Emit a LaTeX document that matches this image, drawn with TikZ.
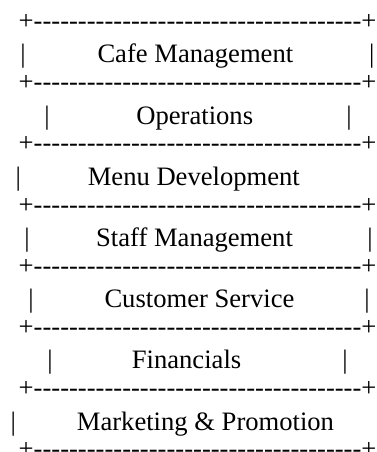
\documentclass[tikz,border=0pt]{standalone}
\usepackage{fontspec}
\setmainfont{Liberation Serif}
\tikzset{
  txt/.style={inner sep=0pt, font=\fontsize{26.6}{30}\selectfont},
  row/.style={txt, anchor=base west},
  bar/.style={txt, anchor=base},
}
% one ascii border: plus, a run of hyphens, plus (kerns keep -- from ligaturing)
\newcommand\borderrow{+\foreach \k in {1,...,37}{-\kern0pt}+}

\begin{document}
\begin{tikzpicture}[x=1pt, y=-1pt]
\useasboundingbox (0,0) rectangle (376,452);

\foreach \i in {0,...,7}
  \node[row] (b\i) at (18.5, 29.7+61.14*\i) {\borderrow};

\node[row] (cafe)  at (97.3, 63)    {Cafe Management};
\node[bar] (cafeL) at (23, 63)      {|};
\node[bar] (cafeR) at (371.7, 63)   {|};

\node[row] (ops)   at (136.2, 124.2) {Operations};
\node[bar] (opsL)  at (47, 124.2)    {|};
\node[bar] (opsR)  at (349, 124.2)   {|};

\node[row] (menu)  at (87.6, 185.4)  {Menu Development};
\node[bar] (menuL) at (18.3, 185.4)  {|};

\node[row] (staff)  at (96, 246.5)   {Staff Management};
\node[bar] (staffL) at (27, 246.5)   {|};
\node[bar] (staffR) at (370, 246.5)  {|};

\node[row] (cust)  at (104.3, 307.7) {Customer Service};
\node[bar] (custL) at (31, 307.7)    {|};
\node[bar] (custR) at (367, 307.7)   {|};

\node[row] (fin)  at (131.7, 368.8)  {Financials};
\node[bar] (finL) at (50, 368.8)     {|};
\node[bar] (finR) at (345, 368.8)    {|};

\node[row] (mkt)  at (76.7, 430)     {Marketing \& Promotion};
\node[bar] (mktL) at (13.3, 430)     {|};
\end{tikzpicture}
\end{document}
